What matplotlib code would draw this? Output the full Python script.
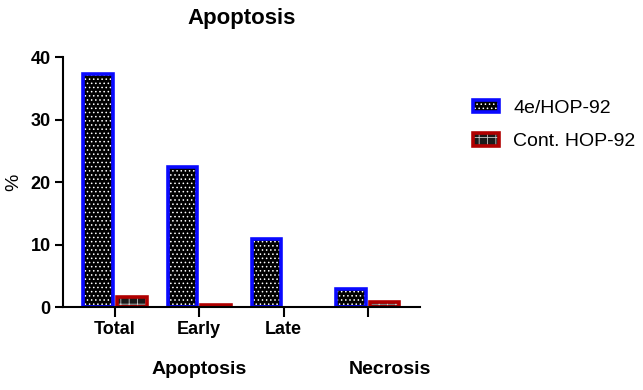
import numpy as np
import matplotlib
matplotlib.use("Agg")
import matplotlib.pyplot as plt
import matplotlib.transforms as mtransforms
from matplotlib.legend_handler import HandlerTuple

plt.rcParams['font.family'] = ['Liberation Sans', 'DejaVu Sans']
plt.rcParams['hatch.linewidth'] = 0.6

categories = ["Total", "Early", "Late", "Necrosis"]
tick_labels = ["Total", "Early", "Late", ""]
series_names = ["4e/HOP-92", "Cont. HOP-92"]
treated = [37.3, 22.4, 10.9, 3.0]
control = [1.7, 0.3, np.nan, 0.9]
group_labels = ["Apoptosis", "Necrosis"]
group_label_x = [1.0, 3.26]
yticks = [0, 10, 20, 30, 40]

fig = plt.figure(figsize=(6.43, 3.90), dpi=100)
ax = fig.add_axes([63/643, 1-307.3/390, (420-63)/643, (307.3-57.3)/390])

x = np.arange(len(categories))
w = 0.35
off = 0.2

# treated: black with white dots, blue outline
h1 = ax.bar(x - off, treated, w, facecolor='black', edgecolor='white',
            hatch='....', linewidth=0, zorder=2)
h1o = ax.bar(x - off, treated, w, facecolor='none', edgecolor='#0a0aff',
             linewidth=2.6, zorder=3)
# control: dark with grey checker, red outline
h2 = ax.bar(x + off, control, w, facecolor='#1a1a1a', edgecolor='#c8c8c8',
            hatch='++', linewidth=0, zorder=2)
h2o = ax.bar(x + off, control, w, facecolor='none', edgecolor='#b00000',
             linewidth=2.6, zorder=3)

ax.set_xlim(-0.617, 3.62)
ax.set_ylim(0, 40)
ax.set_yticks(yticks)
ax.set_xticks(x)
ax.set_xticklabels(tick_labels, fontsize=13, fontweight='bold')
ax.set_yticklabels([str(v) for v in yticks], fontsize=13, fontweight='bold')
ax.set_ylabel('%', fontsize=14, labelpad=6)

for s in ['top', 'right']:
    ax.spines[s].set_visible(False)
for s in ['left', 'bottom']:
    ax.spines[s].set_linewidth(1.5)
    ax.spines[s].set_zorder(5)
ax.tick_params(axis='both', width=1.5, length=6, direction='out', pad=3)
ax.tick_params(axis='x', length=7)

ax.set_title('Apoptosis', fontsize=16, fontweight='bold', pad=24)

trans = mtransforms.blended_transform_factory(ax.transData, ax.transAxes)
for lab, gx in zip(group_labels, group_label_x):
    ax.text(gx, -0.25, lab, transform=trans, ha='center', va='center',
            fontsize=14, fontweight='bold')

leg_h1 = (h1.patches[0], h1o.patches[0])
leg_h2 = (h2.patches[0], h2o.patches[0])
fig.legend([leg_h1, leg_h2], series_names, loc='center left',
           bbox_to_anchor=(473/643, 1-125/390), frameon=False, fontsize=14,
           handlelength=1.34, handleheight=0.62, handletextpad=0.72,
           labelspacing=0.85, borderpad=0, borderaxespad=0,
           handler_map={tuple: HandlerTuple(ndivide=1)})

fig.savefig('out.png', dpi=100)
